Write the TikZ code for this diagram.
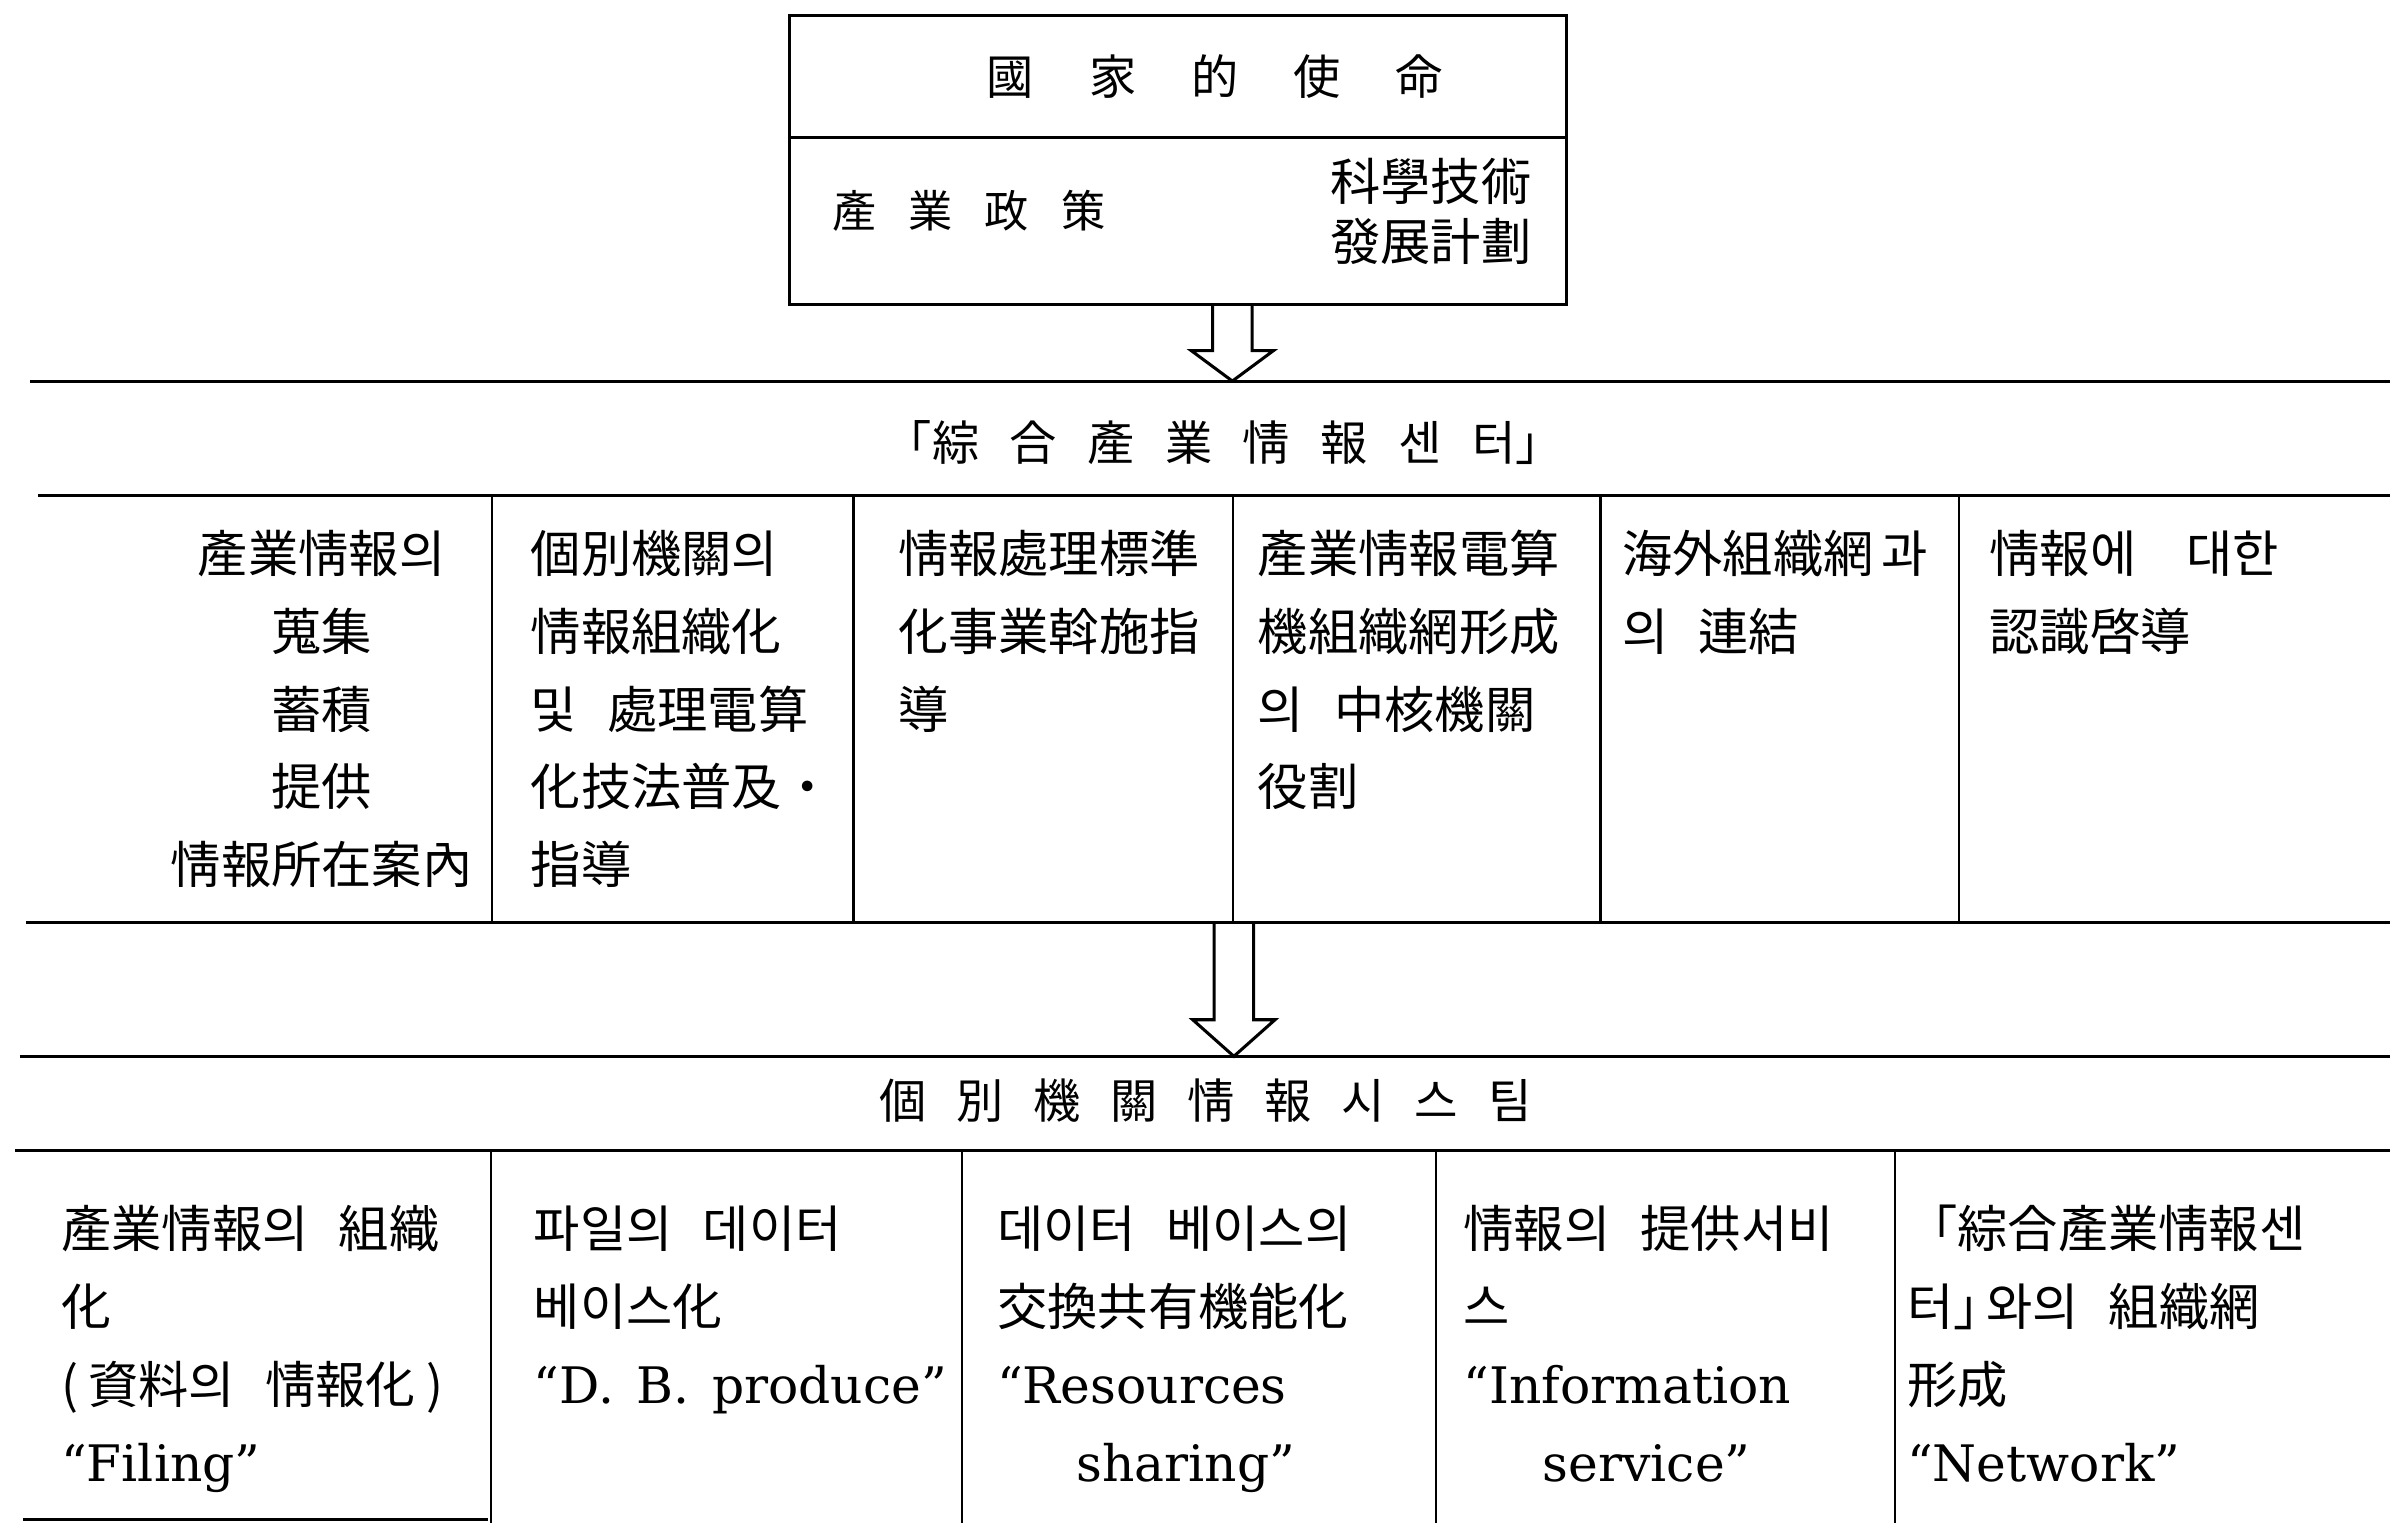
\documentclass[tikz,border=0pt]{standalone}
\usepackage{fontspec}
\setmainfont{DejaVu Serif}
\newfontfamily\cjk{Noto Sans CJK KR}
\usetikzlibrary{calc}
\newcommand\jgap{\hspace{0.6em}}
\newcommand\tp{\rule{0pt}{30pt}}
\newcommand\lat{\rmfamily}
\begin{document}
\begin{tikzpicture}[x=1pt,y=-1pt,
  hline/.style={line width=2pt},
  vline/.style={line width=1.5pt},
  cell/.style={anchor=north west, inner sep=0pt, align=left, font=\cjk\fontsize{33}{51}\selectfont},
  cellc/.style={anchor=north, inner sep=0pt, align=center, font=\cjk\fontsize{33}{51}\selectfont},
  title/.style={anchor=base, inner sep=0pt, font=\cjk\fontsize{31}{31}\selectfont},
  blockarrow/.style={line width=2pt, line join=miter}]
\fill[white] (0,0) rectangle (1568,999);
\useasboundingbox (0,0) rectangle (1568,999);

% top box
\draw[hline] (518,10) rectangle (1028,200);
\draw[hline] (518,90) -- (1028,90);
\node[title] (mission) at (797,62) {國\hspace{36pt}家\hspace{36pt}的\hspace{36pt}使\hspace{36pt}命};
\node[anchor=base west, inner sep=0pt, font=\cjk\fontsize{29}{29}\selectfont] (policy) at (546,149) {產\hspace{21pt}業\hspace{21pt}政\hspace{21pt}策};
\node[anchor=north east, inner sep=0pt, align=left, font=\cjk\fontsize{33}{39}\selectfont] (plan) at (1005,101.5) {\tp 科學技術\\發展計劃};

% arrow 1
\coordinate (a1s) at (808.5,200);
\coordinate (a1e) at (808.5,250);
\draw[blockarrow] let \p1=(a1s), \p2=(a1e) in
  (\x1-13pt,\y1) -- (\x1-13pt,\y2+20pt) -- (\x1-27pt,\y2+20pt) -- (\x2,\y2)
  -- (\x1+27pt,\y2+20pt) -- (\x1+13pt,\y2+20pt) -- (\x1+13pt,\y1);

% horizontal rules
\draw[hline] (20,250) -- (1568,250);
\node[title] (center) at (803,302) {「綜\hspace{20pt}合\hspace{20pt}產\hspace{20pt}業\hspace{20pt}情\hspace{20pt}報\hspace{20pt}센\hspace{20pt}터」};
\draw[hline] (25,325) -- (1568,325);
\draw[hline] (17,605) -- (1568,605);

% row 1 dividers
\foreach \xx in {323,560,809,1050,1285} \draw[vline] (\xx,325) -- (\xx,605);

% row 1 cells
\node[cellc] (r1c1) at (211,345.5) {\tp 產業情報의\\蒐集\\蓄積\\提供\\情報所在案內};
\node[cell] (r1c2) at (348,345.5) {\tp 個別機關의\\情報組織化\\및\jgap 處理電算\\化技法普及・\\指導};
\node[cell] (r1c3) at (589,345.5) {\tp 情報處理標準\\化事業斡施指\\導};
\node[cell] (r1c4) at (825,345.5) {\tp 產業情報電算\\機組織網形成\\의\jgap 中核機關\\役割};
\node[cell] (r1c5) at (1064,345.5) {\tp 海外組織網\hspace{0.15em}과\\의\jgap 連結};
\node[cell] (r1c6) at (1305,345.5) {\tp 情報에\hspace{1em}대한\\認識啓導};

% arrow 2
\coordinate (a2s) at (809.5,605);
\coordinate (a2e) at (809.5,693);
\draw[blockarrow] let \p1=(a2s), \p2=(a2e) in
  (\x1-13pt,\y1) -- (\x1-13pt,\y2+24pt) -- (\x1-27pt,\y2+24pt) -- (\x2,\y2)
  -- (\x1+27pt,\y2+24pt) -- (\x1+13pt,\y2+24pt) -- (\x1+13pt,\y1);

\draw[hline] (13,693) -- (1568,693);
\node[title] (system) at (791,734) {個\hspace{19.5pt}別\hspace{19.5pt}機\hspace{19.5pt}關\hspace{19.5pt}情\hspace{19.5pt}報\hspace{19.5pt}시\hspace{19.5pt}스\hspace{19.5pt}팀};
\draw[hline] (10,755) -- (1568,755);

% row 2 dividers
\foreach \xx in {322,631,942,1243} \draw[vline] (\xx,755) -- (\xx,999);
\draw[hline] (15,997) -- (320,997);

% row 2 cells
\node[cell] (r2c1) at (40,788.5) {\tp 產業情報의\jgap 組織\\化\\(\hspace{0.2em}資料의\jgap 情報化\hspace{0.2em})\\\lat “Filing”};
\node[cell] (r2c2) at (350,788.5) {\tp 파일의\jgap 데이터\\베이스化\\\lat “D.\hspace{0.45em}B.\hspace{0.45em}produce”};
\node[cell] (r2c3) at (654,788.5) {\tp 데이터\jgap 베이스의\\交換共有機能化\\\lat “Resources\\\hspace{52pt}\lat sharing”};
\node[cell] (r2c4) at (960,788.5) {\tp 情報의\jgap 提供서비\\스\\\lat “Information\\\hspace{52pt}\lat service”};
\node[cell] (r2c5) at (1251,788.5) {\tp 「綜合產業情報센\\터」\kern-0.35em 와의\jgap 組織網\\形成\\\lat “Network”};
\end{tikzpicture}
\end{document}
